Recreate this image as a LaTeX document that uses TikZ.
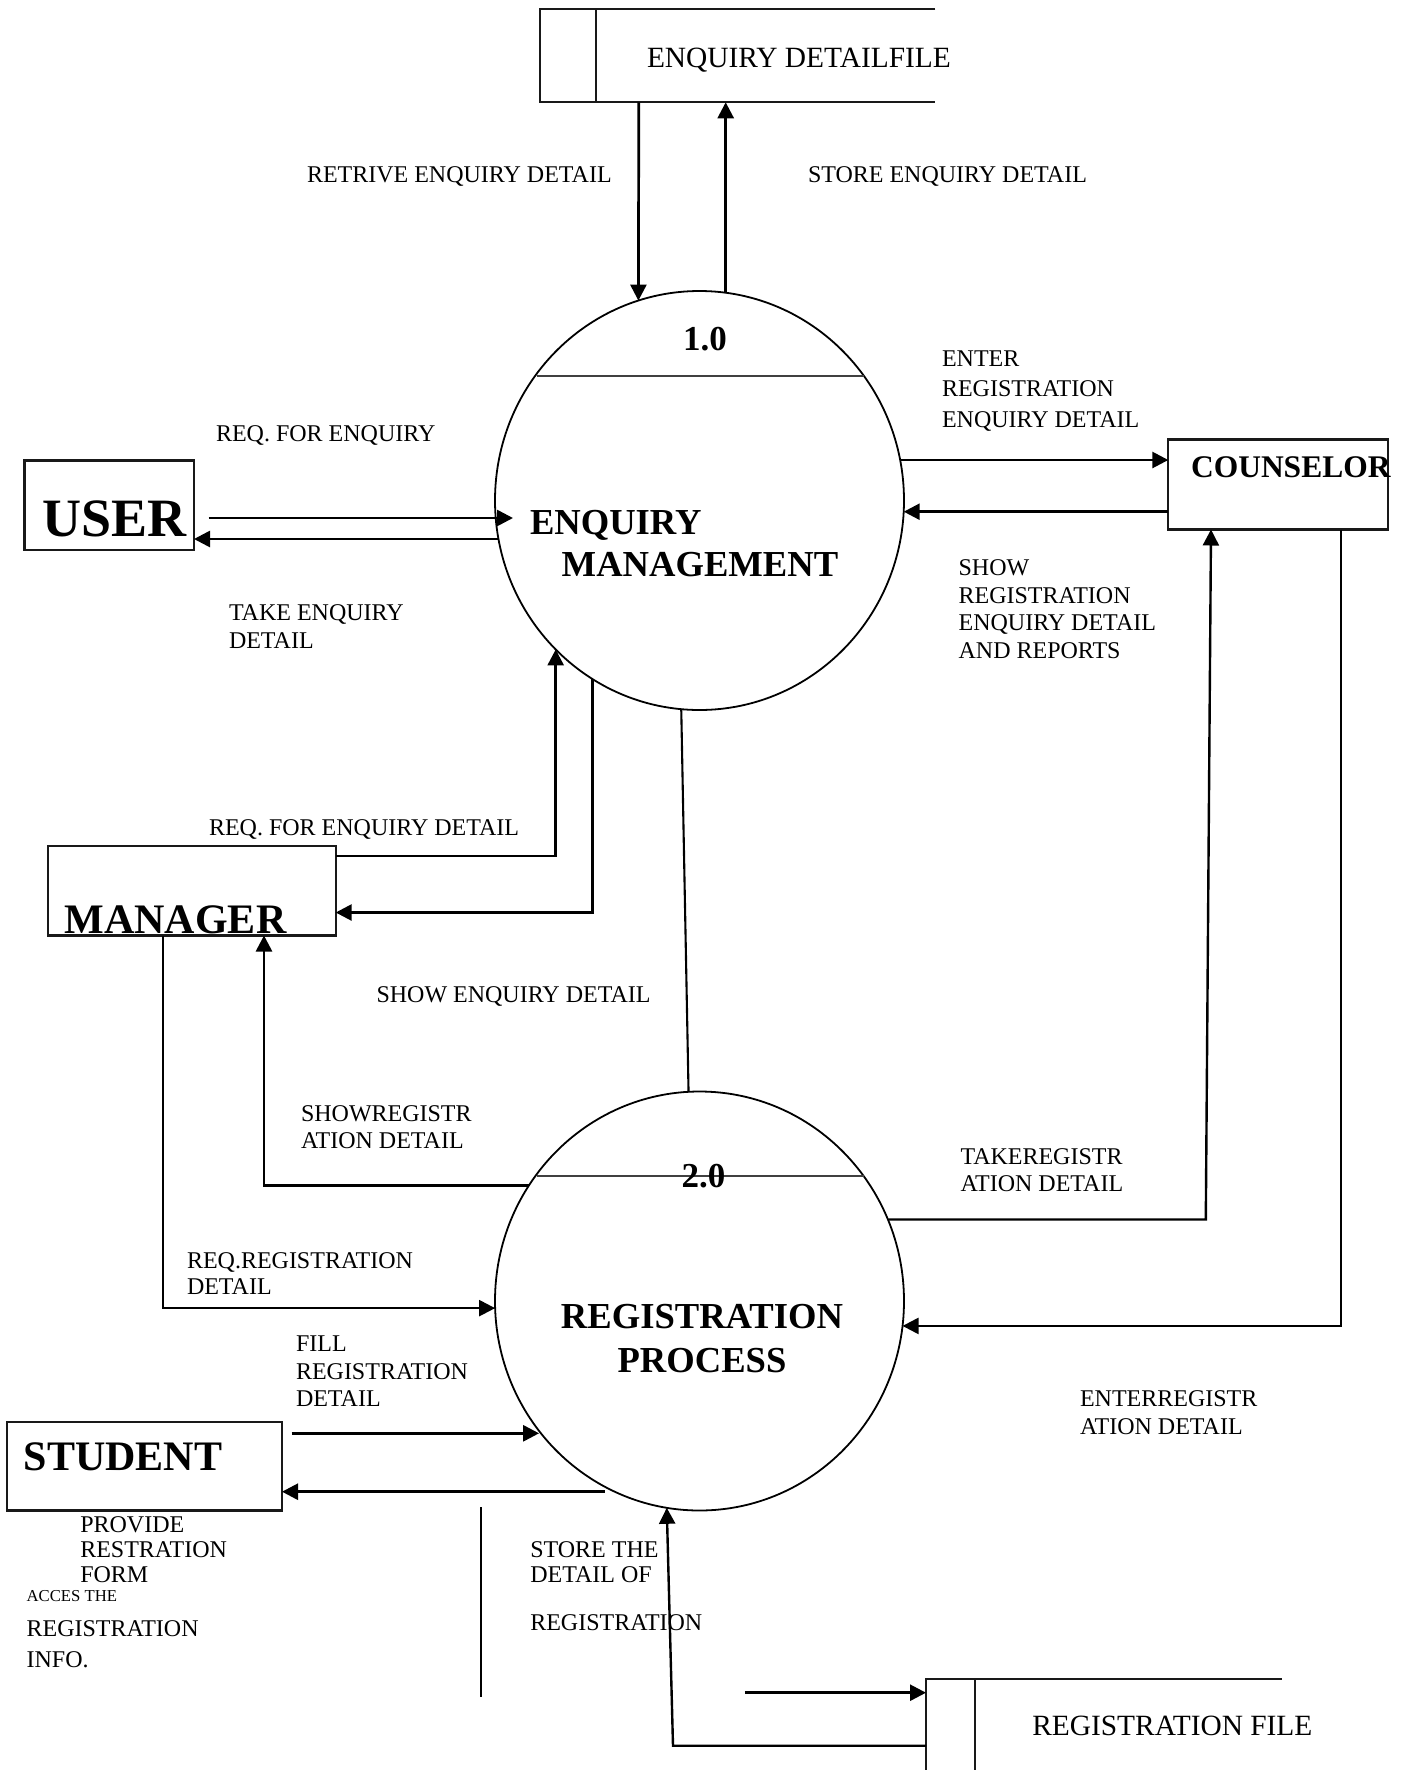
\documentclass[tikz,border=0pt]{standalone}
\usepackage{fontspec}
\setmainfont{Liberation Serif}
\usetikzlibrary{arrows.meta,shapes.geometric}

\begin{document}
\begin{tikzpicture}[x=1pt,y=-1pt,
  box/.style={draw=black!90, line width=2.1pt, inner sep=0pt, outer sep=0pt},
  proc/.style={ellipse, draw, line width=1.8pt, minimum width=409pt, minimum height=419pt, inner sep=0pt, outer sep=0pt},
  store/.style={inner sep=0pt, outer sep=0pt},
  storeline/.style={draw=black!90, line width=2.1pt},
  divider/.style={draw=black!75, line width=1.7pt},
  flow/.style={line width=2.7pt, -{Triangle[length=16pt,width=16pt]}},
  link/.style={line width=2.1pt},
  lbl/.style={font=\fontsize{24}{27.7}\selectfont, inner sep=0pt, outer sep=0pt, anchor=north west, align=left},
  title/.style={inner sep=0pt, outer sep=0pt, font=\bfseries\fontsize{#1}{#1}\selectfont},
  filetext/.style={inner sep=0pt, outer sep=0pt, anchor=north west, font=\fontsize{29.4}{30}\selectfont}
]
\useasboundingbox (0,0) rectangle (1404,1770);
\fill[white] (0,0) rectangle (1404,1770);

% ---------- data stores ----------
\node[store, minimum width=395.4pt, minimum height=93pt] (efile) at (737.7,55.8) {};
\draw[storeline] (efile.north east) -- (efile.north west) -- (efile.south west) -- (efile.south east);
\draw[storeline] (596,0 |- efile.north) -- (596,0 |- efile.south);
\node[filetext] (efiletext) at (647,47.7) {ENQUIRY DETAILFILE};

\node[store, minimum width=356.3pt, minimum height=90.7pt] (regfile) at (1104.15,1724.65) {};
\draw[storeline] (regfile.south west) -- (regfile.north west) -- (regfile.north east);
\draw[storeline] (975.3,0 |- regfile.north) -- (975.3,0 |- regfile.south);
\node[filetext] (regfiletext) at (1032.3,1716) {REGISTRATION FILE};

% ---------- processes ----------
\node[proc] (proc1) at (699.5,500.5) {};
\draw[divider] (proc1.142.9 |- 0,376) -- (proc1.37.1 |- 0,376);
\node[title=35, anchor=north] (num1) at (705,327.5) {1.0};
\node[title=36.6, anchor=north west, align=left, font=\bfseries\fontsize{36.6}{42}\selectfont] (name1) at (530,510.7)
  {ENQUIRY\\\hspace*{31.7pt}MANAGEMENT};

\node[proc] (proc2) at (699.5,1301) {};
\draw[divider] (proc2.142.7 |- 0,1176) -- (proc2.37.3 |- 0,1176);
\node[title=35, anchor=north] (num2) at (703.4,1164) {2.0};
\node[title=36.6, anchor=north, align=center, font=\bfseries\fontsize{36.6}{44.7}\selectfont] (name2) at (702,1304)
  {REGISTRATION\\PROCESS};

% ---------- external entities ----------
\node[box, minimum width=169.5pt, minimum height=89.5pt] (user) at (109.25,505.25) {};
\node[title=54, anchor=north west] (usertext) at (42.5,501) {USER};

\node[box, minimum width=219.4pt, minimum height=90pt] (counselor) at (1278,484.5) {};
\node[title=31.5, anchor=north west] (counselortext) at (1191,456.7) {COUNSELOR};

\node[box, minimum width=287.9pt, minimum height=89.5pt] (manager) at (191.75,890.75) {};
\node[title=42, anchor=north west] (managertext) at (64.7,905.5) {MANAGER};

\node[box, minimum width=275.1pt, minimum height=88.5pt] (student) at (144.45,1466.25) {};
\node[title=42, anchor=north west] (studenttext) at (23.9,1442.3) {STUDENT};

% ---------- flows of process 1.0 ----------
\draw[flow] (638.8,0 |- efile.south) -- (proc1.107.8);
\draw[flow] (725.7,0 |- proc1.82.8) -- (725.7,0 |- efile.south);
\node[lbl] (l-retrive) at (307,167) {RETRIVE ENQUIRY DETAIL};
\node[lbl] (l-store) at (808,167) {STORE ENQUIRY DETAIL};

\draw[flow, shorten <=14.5pt, shorten >=-18pt] (user.east |- 0,518) -- (proc1.west |- 0,518);
\draw[flow] (proc1.190.8 |- 0,539) -- (user.east |- 0,539);
\node[lbl] (l-reqenq) at (216,426) {REQ. FOR ENQUIRY};
\node[lbl] (l-takeenq) at (229,605) {TAKE ENQUIRY\\DETAIL};

\draw[flow] (proc1.11.4 |- 0,460) -- (counselor.west |- 0,460);
\draw[flow] (counselor.west |- 0,511.7) -- (proc1.-3.1 |- 0,511.7);
\node[lbl, font=\fontsize{24}{30.5}\selectfont] (l-enter) at (942,350.7) {ENTER\\REGISTRATION\\ENQUIRY DETAIL};
\node[lbl, font=\fontsize{24}{27.8}\selectfont] (l-show) at (958.6,559.3) {SHOW\\REGISTRATION\\ENQUIRY DETAIL\\AND REPORTS};

\draw[flow] (manager.east |- 0,856) -| (proc1.226.3);
\draw[flow] (proc1.239.65) |- (manager.east |- 0,912.5);
\node[lbl] (l-reqdet) at (209,819.3) {REQ. FOR ENQUIRY DETAIL};
\node[lbl] (l-showenq) at (376.5,986.7) {SHOW ENQUIRY DETAIL};

\draw[link] (proc1.265.2) -- (proc2.93.4);

% ---------- flows of process 2.0 ----------
\draw[flow] (proc2.146.6) -| (264,0 |- manager.south);
\draw[flow, line width=2.3pt] (163,0 |- manager.south) |- (proc2.182.8);
\node[lbl, font=\fontsize{24}{26.7}\selectfont] (l-showreg) at (301,1106) {SHOWREGISTR\\ATION DETAIL};
\node[lbl, font=\fontsize{24}{26}\selectfont] (l-reqreg) at (187,1252.7) {REQ.REGISTRATION\\DETAIL};

\coordinate (trc) at (1205.8,1219.5);
\draw[flow, line width=2.4pt] (proc2.23.4 |- trc) -- (trc) -- (1211,0 |- counselor.south);
\draw[flow, line width=2.4pt] (1340.7,0 |- counselor.south) |- (proc2.-7.16);
\node[lbl, font=\fontsize{24}{26.7}\selectfont] (l-takereg) at (960.5,1149) {TAKEREGISTR\\ATION DETAIL};
\node[lbl] (l-enterreg) at (1080,1390.7) {ENTERREGISTR\\ATION DETAIL};

\draw[flow, shorten <=9.5pt] (student.east |- 0,1433.3) -- (proc2.219.85 |- 0,1433.3);
\draw[flow, shorten <=10pt] (proc2.246.3 |- 0,1491.7) -- (student.east |- 0,1491.7);
\node[lbl, font=\fontsize{24}{27.5}\selectfont] (l-fill) at (296,1336) {FILL\\REGISTRATION\\DETAIL};
\node[lbl, font=\fontsize{24}{25}\selectfont] (l-provide) at (80.3,1516.7) {PROVIDE\\RESTRATION\\FORM};
\node[lbl, font=\fontsize{16.7}{18}\selectfont] (l-acces) at (26.6,1590.7) {ACCES THE};
\node[lbl, font=\fontsize{24}{30.7}\selectfont] (l-info) at (26.6,1620.7) {REGISTRATION\\INFO.};

\coordinate (ola) at (480.7,1507.3);
\coordinate (olb) at (480.7,1697.3);
\draw[link] (ola) -- (olb);

\coordinate (sdc) at (673,1745.7);
\draw[flow, line width=2.4pt] (regfile.west |- sdc) -- (sdc) -- (proc2.261.6);
\node[lbl, font=\fontsize{24}{25}\selectfont] (l-storereg) at (530.3,1541.7) {STORE THE\\DETAIL OF\\[23.3pt]REGISTRATION};

\coordinate (rin) at (744.8,1692.7);
\draw[flow] (rin) -- (regfile.west |- rin);
\end{tikzpicture}
\end{document}
